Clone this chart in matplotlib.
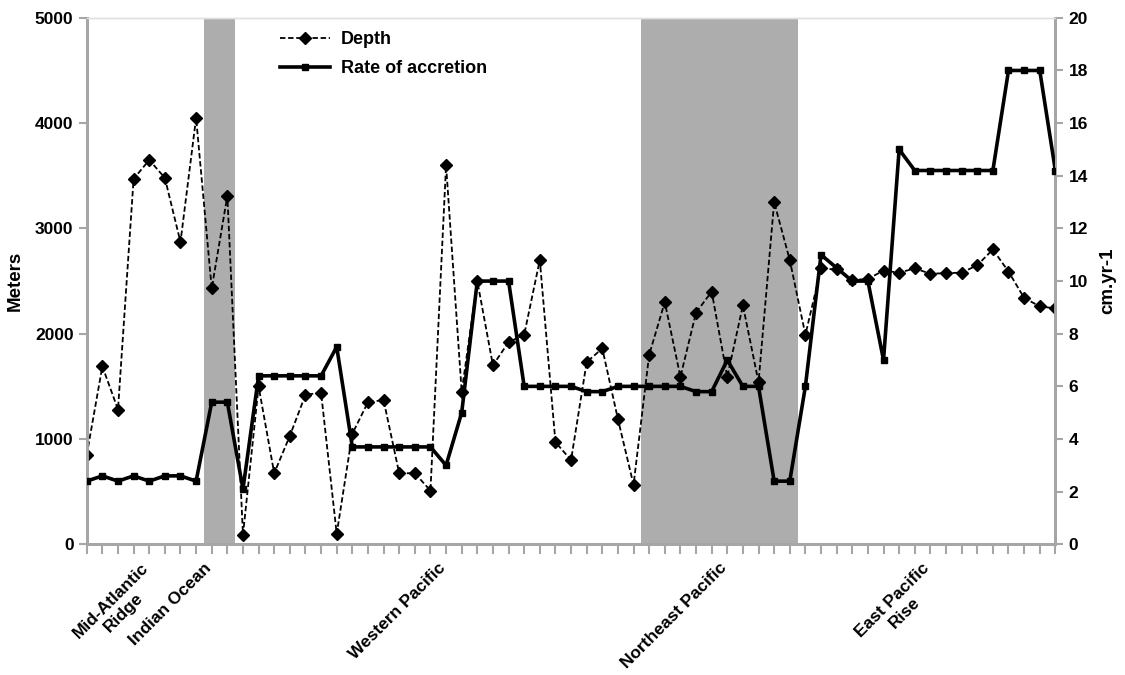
import matplotlib
matplotlib.use("Agg")
from matplotlib import pyplot as plt
import numpy as np

plt.rcParams["font.family"] = ["Liberation Sans", "DejaVu Sans"]
plt.rcParams["font.weight"] = "bold"

# depth of each site (m), left axis
depth = [850, 1690, 1280, 3470, 3650, 3480, 2870, 4050, 2430, 3310,
         90, 1500, 675, 1030, 1420, 1440, 100, 1050, 1350, 1370,
         675, 675, 510, 3600, 1450, 2500, 1700, 1920, 1990, 2700,
         970, 800, 1730, 1860, 1190, 565, 1800, 2300, 1590, 2200,
         2400, 1590, 2270, 1540, 3250, 2700, 1990, 2620, 2610, 2510,
         2520, 2600, 2580, 2620, 2570, 2575, 2580, 2650, 2800, 2590,
         2340, 2260, 2240]

# rate of accretion (cm/yr), right axis
rate = [2.4, 2.6, 2.4, 2.6, 2.4, 2.6, 2.6, 2.4, 5.4, 5.4,
        2.1, 6.4, 6.4, 6.4, 6.4, 6.4, 7.5, 3.7, 3.7, 3.7,
        3.7, 3.7, 3.7, 3.0, 5.0, 10, 10, 10, 6.0, 6.0,
        6.0, 6.0, 5.8, 5.8, 6.0, 6.0, 6.0, 6.0, 6.0, 5.8,
        5.8, 7.0, 6.0, 6.0, 2.4, 2.4, 6.0, 11.0, 10.5, 10.0,
        10.0, 7.0, 15.0, 14.2, 14.2, 14.2, 14.2, 14.2, 14.2, 18,
        18, 18, 14.2]

regionNames = ["Mid-Atlantic\nRidge", "Indian Ocean", "Western Pacific", "Northeast Pacific", "East Pacific\nRise"]
regionIdx = [4, 8, 23, 41, 54]
shadedBands = [(7.5, 9.5), (35.5, 45.5)]

axisGrey = "#a6a6a6"
x = np.arange(len(depth))

fig = plt.figure(figsize=(11.25, 6.75), dpi=100)
ax1 = fig.add_axes([0.0771, 0.1936, 0.861, 0.78])
ax2 = ax1.twinx()

for a, b in shadedBands:
    ax1.axvspan(a, b, color="#adadad", lw=0, zorder=0)

l1, = ax1.plot(x, depth, color="black", lw=1.3, linestyle=(0, (3, 1.5)),
               marker="D", markersize=6, label="Depth", zorder=3)
l2, = ax2.plot(x, rate, color="black", lw=2.6, marker="s", markersize=5,
               label="Rate of accretion", zorder=3)

ax1.set_xlim(0, 62)
ax1.set_ylim(0, 5000)
ax2.set_ylim(0, 20)
ax1.set_yticks(np.arange(0, 5001, 1000))
ax2.set_yticks(np.arange(0, 21, 2))

# one tick per site, region names written under their group
ax1.set_xticks(x)
ax1.set_xticklabels([])
for name, idx in zip(regionNames, regionIdx):
    ax1.annotate(name, xy=(idx, 0), xycoords=("data", "axes fraction"),
                 xytext=(-6, -11.5), textcoords="offset points",
                 rotation=45, ha="right", va="top", rotation_mode="anchor",
                 fontsize=12.5, fontweight="bold", multialignment="center")

ax1.tick_params(axis="x", length=7, color=axisGrey, width=1.5)
ax1.tick_params(axis="y", length=6, color=axisGrey, width=1.5, labelsize=12.5)
ax2.tick_params(axis="y", length=6, color=axisGrey, width=1.5, labelsize=12.5)

for a in (ax1, ax2):
    for s in a.spines.values():
        s.set_color(axisGrey)
        s.set_linewidth(2)
    a.spines["top"].set_color("#e0e0e0")
    a.spines["top"].set_linewidth(1)
ax2.patch.set_visible(False)

ax1.set_ylabel("Meters", fontsize=13.5, fontweight="bold", labelpad=8)
ax2.set_ylabel("cm.yr-1", fontsize=13.5, fontweight="bold", labelpad=8)

fig.legend([l1, l2], ["Depth", "Rate of accretion"], loc="upper left",
           bbox_to_anchor=(0.234, 0.978), frameon=False, handlelength=2.8,
           handletextpad=0.6, prop={"size": 13, "weight": "bold"}, labelspacing=0.65)

plt.savefig("out.png", dpi=100)
